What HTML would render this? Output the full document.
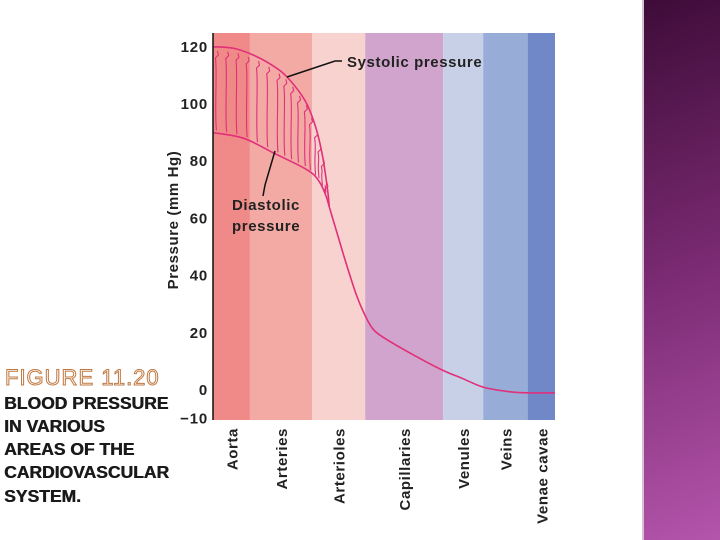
<!DOCTYPE html>
<html><head><meta charset="utf-8"><style>
body{margin:0;width:720px;height:540px;background:#fff;overflow:hidden;position:relative;font-family:"Liberation Sans",sans-serif}
#strip{position:absolute;left:642px;top:0;width:78px;height:540px;background:linear-gradient(160deg,#3e0c38 0%,#7a2a72 50%,#b455ac 100%);border-left:2px solid #d8c0d4}
.cap{position:absolute;left:4px;font-weight:bold;font-size:17.5px;color:#1a1a1a;letter-spacing:0px;text-shadow:0.5px 0 #1a1a1a}
#fig{position:absolute;left:5px;top:365px;font-size:22px;color:#fff;-webkit-text-stroke:1px #c07840;letter-spacing:1px}
</style></head><body>
<div id="strip"></div>
<div id="fig">FIGURE 11.20</div>
<div class="cap" style="top:393px">BLOOD PRESSURE</div>
<div class="cap" style="top:416px">IN VARIOUS</div>
<div class="cap" style="top:439px">AREAS OF THE</div>
<div class="cap" style="top:462px">CARDIOVASCULAR</div>
<div class="cap" style="top:486px">SYSTEM.</div>
<svg id="chart" width="720" height="540" style="position:absolute;left:0;top:0"></svg>
<script>
const categories=["Aorta","Arteries","Arterioles","Capillaries","Venules","Veins","Venae cavae"];
const bandEdges=[0,10.8,29,44.5,67.3,79,92,100];
const bandColors=["#f08a88","#f4aaa4","#f8d2ce","#d0a4cc","#c8d0e8","#98acd8","#7088c8"];
const yTicks=[120,100,80,60,40,20,0,-10];
const sysX=[0,6,12,18,22,27,30,32,33.5,34];
const sysY=[120,119.5,117,113,109,101,92,82,70,64];
const diaX=[0,9,17.5,27.5,31,33,34];
const diaY=[90,88,83,77,73,68,64];
const meanX=[34,36,39,42,44.5,47,51,59,67,73,79,86,92,100];
const meanY=[64,56,44,33,26,21,17.5,12,7,4,1,-0.5,-1,-1];
const pulseX=[1,4,7,10,13,16,19,21,23,25,27,28.5,30,31,32,33];

const NS="http://www.w3.org/2000/svg";
const svg=document.getElementById('chart');
const X=u=>213+u*3.42;
const Y=v=>390-v*2.86;
function mk(t,a){const e=document.createElementNS(NS,t);for(const k in a)e.setAttribute(k,a[k]);svg.appendChild(e);return e;}
function interp(xs,ys,u){for(let i=0;i<xs.length-1;i++){if(u>=xs[i]&&u<=xs[i+1]){const t=(u-xs[i])/(xs[i+1]-xs[i]);return ys[i]+t*(ys[i+1]-ys[i]);}}return ys[ys.length-1];}
function smooth(xs,ys){let p=xs.map((x,i)=>[X(x),Y(ys[i])]);let d="M"+p[0][0]+","+p[0][1];for(let i=0;i<p.length-1;i++){const p0=p[i-1]||p[i],p1=p[i],p2=p[i+1],p3=p[i+2]||p2;d+=" C"+(p1[0]+(p2[0]-p0[0])/6)+","+(p1[1]+(p2[1]-p0[1])/6)+" "+(p2[0]-(p3[0]-p1[0])/6)+","+(p2[1]-(p3[1]-p1[1])/6)+" "+p2[0]+","+p2[1];}return d;}

categories.forEach((c,i)=>{
 const r=mk('rect',{x:X(bandEdges[i]),y:33,width:X(bandEdges[i+1])-X(bandEdges[i]),height:387,fill:bandColors[i]});
 
 
 const cx=(X(bandEdges[i])+X(bandEdges[i+1]))/2+6;
 const t=mk('text',{x:cx,y:428,transform:`rotate(-90 ${cx} 428)`,'text-anchor':'end','font-size':15,'font-weight':'bold',fill:'#222','letter-spacing':'0.6'});
 t.textContent=c;
 
 
});
pulseX.forEach(u=>{
 const top=interp(sysX,sysY,u)-1, bot=interp(diaX,diaY,u)+1;
 const x=X(u);
 const p=mk('path',{d:`M${x},${Y(bot)} C${x-2},${Y(bot)-20} ${x+1},${Y(top)+20} ${x-1},${Y(top)+8} l3,-3 l-1,-4`,fill:'none',stroke:'#e0307a','stroke-width':1.1});
 
 
});
const s=mk('path',{d:smooth(sysX,sysY),fill:'none',stroke:'#e0307a','stroke-width':1.6});

const d=mk('path',{d:smooth(diaX,diaY),fill:'none',stroke:'#e0307a','stroke-width':1.6});

const m=mk('path',{d:smooth(meanX,meanY),fill:'none',stroke:'#e0307a','stroke-width':1.6});

const ax=mk('line',{x1:213,y1:33,x2:213,y2:420,stroke:'#111','stroke-width':1.5});

yTicks.forEach(v=>{
 const t=mk('text',{x:208,y:Y(v)+5,'text-anchor':'end','font-size':15,'font-weight':'bold',fill:'#222','letter-spacing':'0.8'});
 t.textContent=v<0?'\u2212'+Math.abs(v):v;
 
});
const yt=mk('text',{x:178,y:220,transform:'rotate(-90 178 220)','text-anchor':'middle','font-size':15,'font-weight':'bold',fill:'#222','letter-spacing':'0.6'});
yt.textContent='Pressure (mm Hg)';
const l1=mk('path',{d:'M287,77 L335,61 L342,61',fill:'none',stroke:'#111','stroke-width':1.5});

const a1=mk('text',{x:347,y:67,'font-size':15,'font-weight':'bold',fill:'#222','letter-spacing':'0.6'});
a1.textContent='Systolic pressure';
const l2=mk('path',{d:'M275,151 L265,185 L263,196',fill:'none',stroke:'#111','stroke-width':1.5});

const a2=mk('text',{x:232,y:210,'font-size':15,'font-weight':'bold',fill:'#222','letter-spacing':'0.6'});
a2.textContent='Diastolic';
const a3=mk('text',{x:232,y:231,'font-size':15,'font-weight':'bold',fill:'#222','letter-spacing':'0.6'});
a3.textContent='pressure';
</script>
</body></html>
